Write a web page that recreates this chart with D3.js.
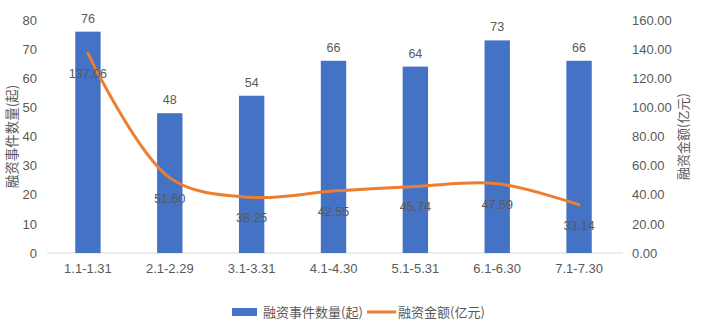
<!DOCTYPE html>
<html>
<head>
<meta charset="utf-8">
<script src="https://cdn.jsdelivr.net/npm/d3@7/dist/d3.min.js"></script>
<style>
  body { margin: 0; background: #fff; }
  text { font-family: "Liberation Sans", "Noto Sans CJK SC", sans-serif; fill: #595959; font-size: 12.5px; }
  .cjk { font-family: "Noto Sans CJK SC", sans-serif; font-size: 13px; }
</style>
</head>
<body>
<svg id="chart"></svg>
<script>
const categories = ['1.1-1.31', '2.1-2.29', '3.1-3.31', '4.1-4.30', '5.1-5.31', '6.1-6.30', '7.1-7.30'];
const eventCounts = [76, 48, 54, 66, 64, 73, 66];
const amounts = [137.06, 51.60, 38.25, 42.55, 45.74, 47.59, 33.14];
const leftTicks = [0, 10, 20, 30, 40, 50, 60, 70, 80];
const rightTicks = [0, 20, 40, 60, 80, 100, 120, 140, 160];

const width = 705, height = 330;
const margin = { top: 20, right: 85, bottom: 77, left: 47 };

const svg = d3.select('#chart').attr('width', width).attr('height', height);

const x = d3.scaleBand()
  .domain(categories)
  .range([margin.left, width - margin.right])
  .paddingInner(0.69)
  .paddingOuter(0.345);

const yLeft = d3.scaleLinear().domain([0, 80]).range([height - margin.bottom, margin.top]);
const yRight = d3.scaleLinear().domain([0, 160]).range([height - margin.bottom, margin.top]);

// baseline
svg.append('line')
  .attr('x1', margin.left).attr('x2', width - margin.right + 3)
  .attr('y1', yLeft(0)).attr('y2', yLeft(0))
  .attr('stroke', '#d9d9d9');

// left axis
const leftAxis = svg.append('g')
  .attr('transform', `translate(${margin.left - 10},0)`)
  .call(d3.axisLeft(yLeft).tickValues(leftTicks).tickSize(0).tickPadding(0));
leftAxis.select('.domain').remove();

// right axis
const rightAxis = svg.append('g')
  .attr('transform', `translate(${width - margin.right + 12},0)`)
  .call(d3.axisRight(yRight).tickValues(rightTicks).tickSize(0).tickPadding(0).tickFormat(d3.format('.2f')));
rightAxis.select('.domain').remove();

// bottom axis
const bottomAxis = svg.append('g')
  .attr('transform', `translate(0,${yLeft(0) + 5})`)
  .call(d3.axisBottom(x).tickSize(0).tickPadding(6));
bottomAxis.select('.domain').remove();

svg.selectAll('.tick text').style('font-size', '13px').attr('fill', '#595959');

// bars
svg.append('g')
  .selectAll('rect')
  .data(eventCounts)
  .join('rect')
  .attr('x', (d, i) => x(categories[i]))
  .attr('y', d => yLeft(d))
  .attr('width', x.bandwidth())
  .attr('height', d => yLeft(0) - yLeft(d))
  .attr('fill', '#4472C4');

svg.append('g')
  .selectAll('text')
  .data(eventCounts)
  .join('text')
  .attr('x', (d, i) => x(categories[i]) + x.bandwidth() / 2)
  .attr('y', d => yLeft(d) - 9)
  .attr('text-anchor', 'middle')
  .text(d => d);

// line
const line = d3.line()
  .x((d, i) => x(categories[i]) + x.bandwidth() / 2)
  .y(d => yRight(d))
  .curve(d3.curveCatmullRom.alpha(0.5));

svg.append('path')
  .datum(amounts)
  .attr('d', line)
  .attr('fill', 'none')
  .attr('stroke', '#ED7D31')
  .attr('stroke-width', 3)
  .attr('stroke-linecap', 'round');

svg.append('g')
  .selectAll('text')
  .data(amounts)
  .join('text')
  .attr('x', (d, i) => x(categories[i]) + x.bandwidth() / 2)
  .attr('y', d => yRight(d) + 25)
  .attr('text-anchor', 'middle')
  .text(d => d.toFixed(2));

// axis titles
svg.append('text')
  .attr('class', 'cjk')
  .attr('transform', `translate(17,${(yLeft(0) + yLeft(80)) / 2}) rotate(-90)`)
  .attr('text-anchor', 'middle')
  .style('font-size', '13.5px')
  .text('融资事件数量(起)');

svg.append('text')
  .attr('class', 'cjk')
  .attr('transform', `translate(688,${(yLeft(0) + yLeft(80)) / 2}) rotate(-90)`)
  .attr('text-anchor', 'middle')
  .text('融资金额(亿元)');

// legend
const legend = svg.append('g').attr('transform', 'translate(232,312)');
legend.append('rect').attr('x', 0).attr('y', -4).attr('width', 25).attr('height', 8).attr('fill', '#4472C4');
legend.append('text').attr('class', 'cjk').attr('x', 31).attr('y', 4.5).text('融资事件数量(起)');
legend.append('line').attr('x1', 135).attr('x2', 164).attr('y1', 0).attr('y2', 0)
  .attr('stroke', '#ED7D31').attr('stroke-width', 3);
legend.append('text').attr('class', 'cjk').attr('x', 166).attr('y', 4.5).text('融资金额(亿元)');
</script>
</body>
</html>
